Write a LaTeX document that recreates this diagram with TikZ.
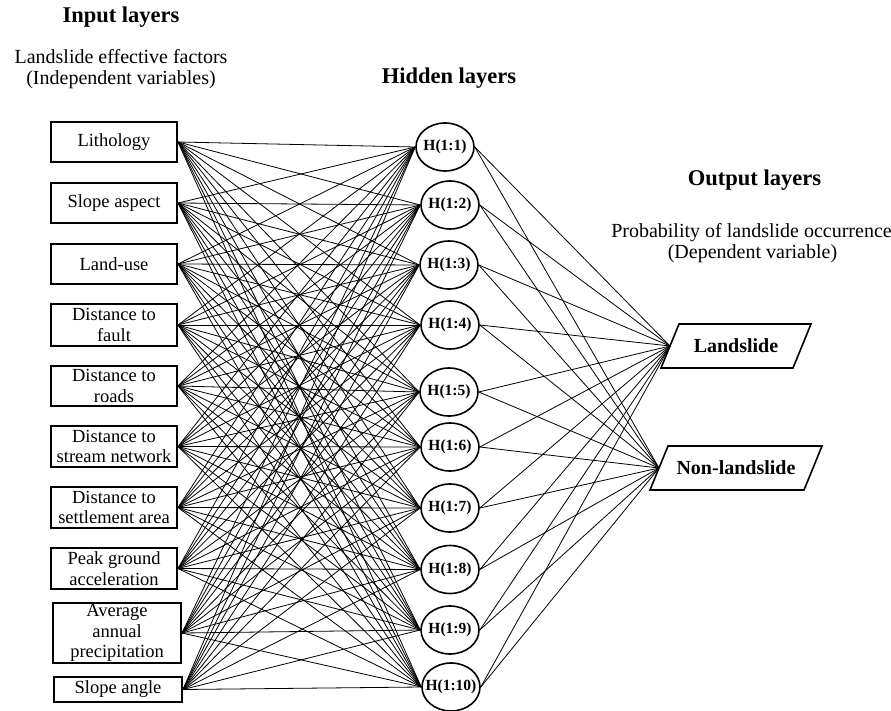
\documentclass[tikz,border=0pt]{standalone}
\usepackage{fontspec}
\setmainfont{Liberation Serif}
\usetikzlibrary{shapes.geometric}
\begin{document}
\begin{tikzpicture}[x=1pt,y=-1pt,
  inbox/.style={draw, line width=1.6pt, align=center, inner sep=0pt,
    font=\fontsize{18.5}{20.5}\selectfont},
  hid/.style={draw, ellipse, line width=1.6pt, minimum width=58pt,
    minimum height=48pt, inner sep=0pt,
    font=\bfseries\fontsize{15.5}{17}\selectfont},
  outtext/.style={inner sep=0pt, font=\bfseries\fontsize{20}{22}\selectfont},
  para/.style={draw, line width=1.6pt, line join=miter},
  conn/.style={line width=0.8pt},
  head/.style={font=\bfseries\fontsize{22.5}{26}\selectfont, anchor=base},
  subhead/.style={font=\fontsize{20}{22}\selectfont, anchor=base}
]
\useasboundingbox (0,0) rectangle (891,711);

% headers
\node[head] (hin) at (121,23) {Input layers};
\node[subhead] (sin1) at (121,63.5) {Landslide effective factors};
\node[subhead] (sin2) at (121,85) {(Independent variables)};
\node[head] (hhid) at (449,83.3) {Hidden layers};
\node[head] (hout) at (754.5,186) {Output layers};
\node[subhead] (sout1) at (751.5,238) {Probability of landslide occurrence};
\node[subhead] (sout2) at (752.5,259) {(Dependent variable)};

% input boxes: left, right, top, bottom
\foreach \n/\l/\r/\t/\b/\txt in {
  1/50/178/121/163/{Lithology},
  2/50/178/182/224/{Slope aspect},
  3/50/178/243/285/{Land-use},
  4/50/178/303/347/{Distance to\\fault},
  5/50/178/365/407/{Distance to\\roads},
  6/50/178/425/468/{Distance to\\stream network},
  7/50/178/486/529/{Distance to\\settlement area},
  8/50/178/547/590/{Peak ground\\acceleration},
  9/52/182/602/664/{Average\\annual\\precipitation},
  10/53/183/676/703/{Slope angle}}{
  \pgfmathsetmacro{\cx}{(\l+\r)/2}
  \pgfmathsetmacro{\cy}{(\t+\b)/2}
  \pgfmathsetmacro{\w}{\r-\l-1.6}
  \pgfmathsetmacro{\h}{\b-\t-1.6}
  \node[inbox, minimum width=\w pt, minimum height=\h pt] (in\n) at (\cx,\cy) {\txt};
}

% hidden nodes
\foreach \n/\x/\y in {1/445/147, 2/450/205, 3/449/265, 4/450/325, 5/449/392,
  6/450/447, 7/450/508, 8/450/569.5, 9/450/630, 10/451/687}{
  \node[hid] (h\n) at (\x,\y) {\makebox[0pt]{H(1:\n)}};
}

% output nodes (parallelograms)
\node[outtext] (ls) at (736,346) {Landslide};
\draw[para] (679,324) -- (811,324) -- (793,368) -- (661,368) -- cycle;
\coordinate (lsw) at (670,346);
\node[outtext] (nls) at (736,468) {Non-landslide};
\draw[para] (668,446) -- (822,446) -- (804,490) -- (650,490) -- cycle;
\coordinate (nlsw) at (659,468);

% connectors
\foreach \i in {1,...,10}{
  \foreach \j in {1,...,10}{
    \draw[conn] (in\i.east) -- (h\j.west);
  }
}
\foreach \j in {1,...,10}{
  \draw[conn] (h\j.east) -- (lsw);
  \draw[conn] (h\j.east) -- (nlsw);
}
\end{tikzpicture}
\end{document}
